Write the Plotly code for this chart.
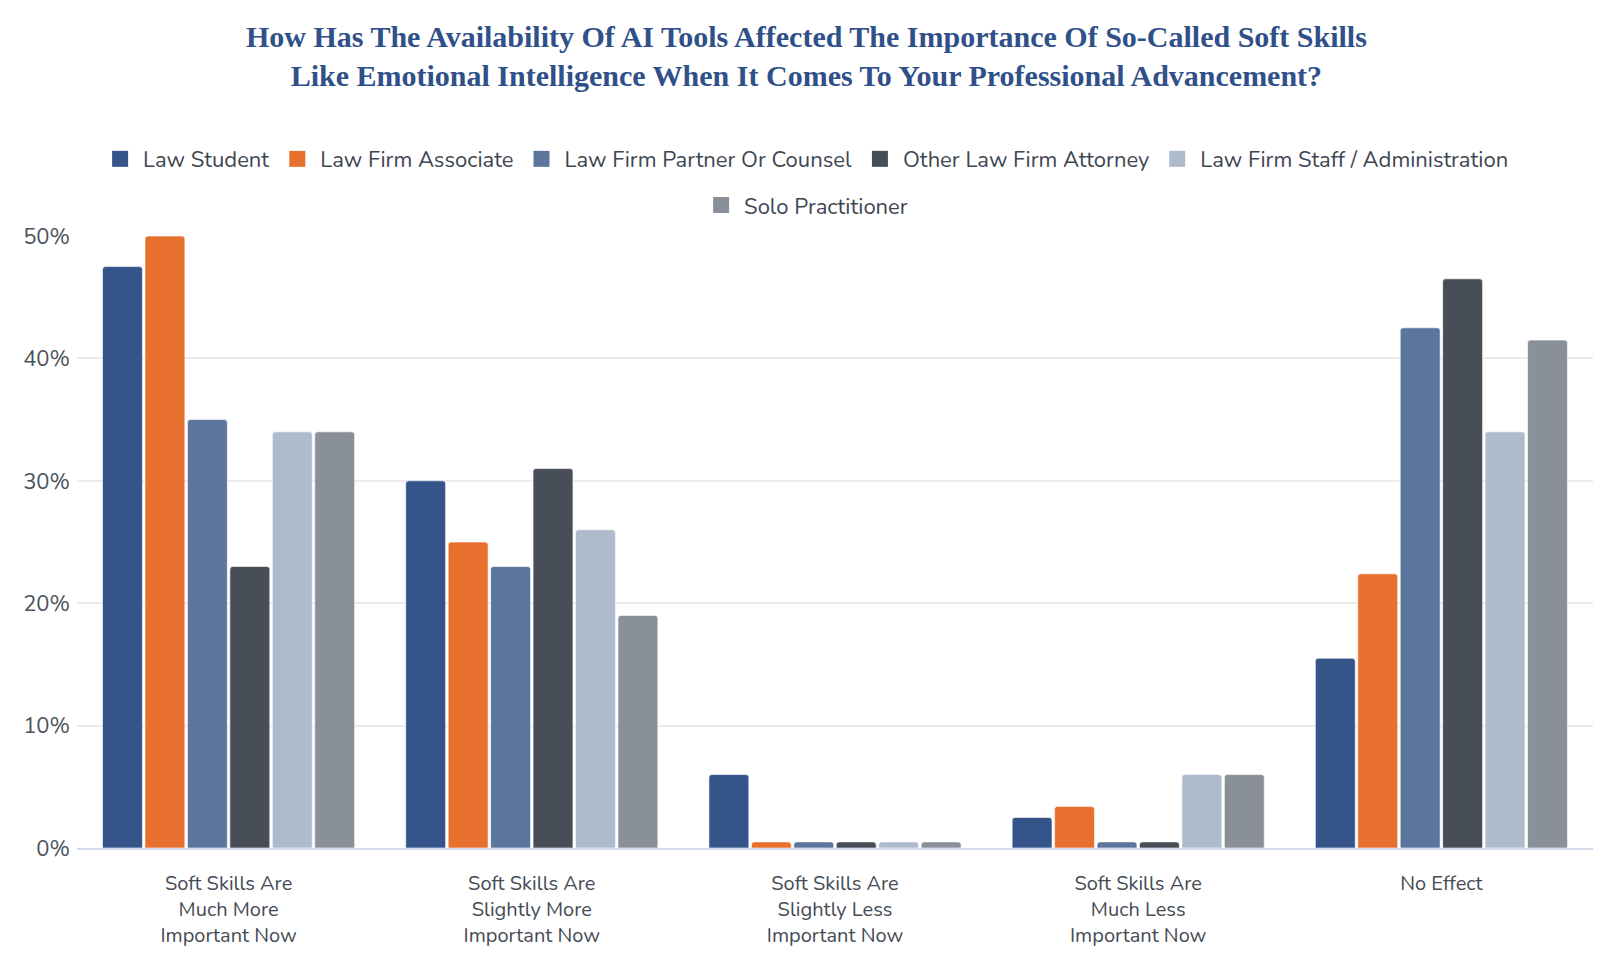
import plotly.graph_objects as go

categories = [
    "Soft Skills Are<br>Much More<br>Important Now",
    "Soft Skills Are<br>Slightly More<br>Important Now",
    "Soft Skills Are<br>Slightly Less<br>Important Now",
    "Soft Skills Are<br>Much Less<br>Important Now",
    "No Effect",
]

law_student = [47.5, 30, 6, 2.5, 15.5]
law_firm_associate = [50, 25, 0.5, 3.4, 22.4]
law_firm_partner = [35, 23, 0.5, 0.5, 42.5]
other_attorney = [23, 31, 0.5, 0.5, 46.5]
law_firm_staff = [34, 26, 0.5, 6, 34]
solo_practitioner = [34, 19, 0.5, 6, 41.5]

series_names = [
    "Law Student",
    "Law Firm Associate",
    "Law Firm Partner Or Counsel",
    "Other Law Firm Attorney",
    "Law Firm Staff / Administration",
    "Solo Practitioner",
]
series_values = [law_student, law_firm_associate, law_firm_partner,
                 other_attorney, law_firm_staff, solo_practitioner]
colors = ["#34548A", "#E8702E", "#5B759D", "#474E57", "#AEBBCD", "#8A9099"]

y_ticks = [0, 10, 20, 30, 40, 50]
y_ticklabels = ["0%", "10%", "20%", "30%", "40%", "50%"]

font_body = "Nunito, Lato, 'Open Sans', sans-serif"

fig = go.Figure()
for i, (name, vals, c) in enumerate(zip(series_names, series_values, colors)):
    fig.add_trace(go.Bar(
        x=categories, y=vals, name=name, showlegend=False,
        marker=dict(color=c, line=dict(color="rgba(255,255,255,0.6)", width=1)),
    ))
# legend entries (larger square swatches)
for i, (name, c) in enumerate(zip(series_names, colors)):
    fig.add_trace(go.Scatter(
        x=[None], y=[None], mode="markers", name=name,
        marker=dict(symbol="square", size=16, color=c),
        legend="legend2" if i == 5 else "legend",
    ))

legend_common = dict(
    orientation="h", xref="container", yref="container",
    xanchor="center", yanchor="middle",
    font=dict(family=font_body, size=22, color="#3E4652"),
    traceorder="normal", itemwidth=36, bgcolor="rgba(0,0,0,0)",
)

fig.update_layout(
    width=1600, height=968,
    paper_bgcolor="white", plot_bgcolor="white",
    barmode="group", bargap=0.16, bargroupgap=0.06,
    barcornerradius=3,
    margin=dict(l=77, r=7, t=236, b=120, autoexpand=False),
    title=dict(
        text="How Has The Availability Of AI Tools Affected The Importance Of So-Called Soft Skills<br>Like Emotional Intelligence When It Comes To Your Professional Advancement?",
        x=0.504, xanchor="center", xref="container",
        y=0.9515, yanchor="middle", yref="container",
        font=dict(family="'Liberation Serif', serif", size=30, color="#2F5088", weight="bold"),
    ),
    legend=dict(legend_common, x=0.5035, y=0.8357),
    legend2=dict(legend_common, x=0.5035, y=0.788),
    font=dict(family=font_body, color="#444B55"),
    showlegend=True,
)

fig.update_xaxes(
    tickfont=dict(size=20, color="#444B55"),
    showline=True, linecolor="#D3DBE8", linewidth=2,
    showgrid=False, ticks="", ticklabelstandoff=16,
)
fig.update_yaxes(
    range=[0, 50], tickvals=y_ticks, ticktext=y_ticklabels,
    tickfont=dict(size=22, color="#4A525C"),
    showgrid=True, gridcolor="#EBEBEB", gridwidth=1.5,
    zeroline=False, ticks="", ticklabelstandoff=6,
)

fig.write_html("out.html")
